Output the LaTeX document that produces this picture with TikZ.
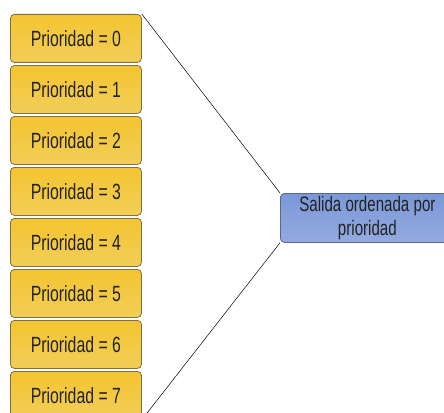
\documentclass[tikz,border=0pt]{standalone}
\usepackage{fontspec}
\setmainfont{Liberation Sans}[FakeStretch=0.72]
\definecolor{goldtop}{RGB}{244,196,48}
\definecolor{goldbot}{RGB}{242,206,88}
\definecolor{goldedge}{RGB}{128,112,72}
\definecolor{bluetop}{RGB}{122,152,216}
\definecolor{bluebot}{RGB}{148,170,224}
\definecolor{blueedge}{RGB}{88,104,140}
\definecolor{ink}{RGB}{34,34,30}
\begin{document}
\begin{tikzpicture}[x=1pt,y=-1pt,
  prio/.style={draw=goldedge, line width=0.8pt, rounded corners=4pt,
    top color=goldtop, bottom color=goldbot,
    minimum width=131pt, minimum height=48pt, inner sep=0pt,
    font=\fontsize{22}{24}\selectfont, text=ink},
  outbox/.style={draw=blueedge, line width=0.8pt, rounded corners=4pt,
    top color=bluetop, bottom color=bluebot,
    minimum width=174pt, minimum height=49pt, inner sep=0pt, align=center,
    font=\fontsize{21}{24}\selectfont, text=ink},
  link/.style={draw=black, line width=0.5pt}]
\useasboundingbox (0,0) rectangle (444,412);
\clip (0,0) rectangle (444,412);
\foreach \k in {0,...,7} {
  \node[prio, anchor=north west] (p\k) at (10,{14+51*\k}) {Prioridad = \k};
}
\node[outbox, anchor=north west] (out) at (280,193) {Salida ordenada por\\prioridad};
\draw[link] (p0.north east) -- (out.north west);
\draw[link] (p7.south east) -- (out.south west);
\end{tikzpicture}
\end{document}
